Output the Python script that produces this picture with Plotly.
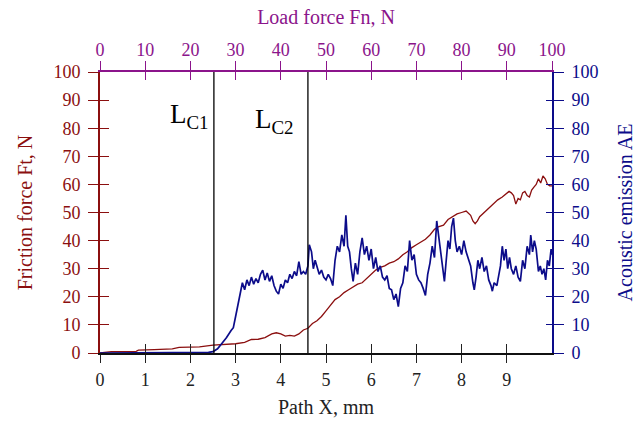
import plotly.graph_objects as go

# ---- data ----
path_ticks = [0, 1, 2, 3, 4, 5, 6, 7, 8, 9]
load_ticks = [0, 10, 20, 30, 40, 50, 60, 70, 80, 90, 100]
y_ticks = [0, 10, 20, 30, 40, 50, 60, 70, 80, 90, 100]

friction_x = [0, 0.2, 0.25, 0.8, 0.85, 1.2, 1.6, 1.75, 2.2, 2.5, 2.8, 3.0, 3.2, 3.35, 3.5,
              3.65, 3.8, 3.9, 4.0, 4.1, 4.2, 4.3, 4.4, 4.5, 4.6, 4.7, 4.8, 4.9, 5.0, 5.1,
              5.2, 5.3, 5.4, 5.5, 5.6, 5.7, 5.8, 5.9, 6.0, 6.1, 6.2, 6.3, 6.4, 6.5, 6.6,
              6.7, 6.8, 6.9, 7.0, 7.1, 7.2, 7.3, 7.4, 7.5, 7.6, 7.7, 7.8, 7.9, 8.0, 8.1,
              8.2, 8.25, 8.3, 8.35, 8.4, 8.5, 8.6, 8.7, 8.8, 8.9, 9.0, 9.05, 9.1, 9.15,
              9.2, 9.25, 9.3, 9.35, 9.4, 9.45, 9.5, 9.55, 9.6, 9.65, 9.7, 9.75, 9.8, 9.85,
              9.9, 9.95, 10.0]
friction_ft = [0, 0.3, 0.5, 0.6, 1.0, 1.2, 1.5, 2.0, 2.2, 2.8, 3.0, 3.3, 3.8, 4.8, 4.9,
               5.5, 6.8, 7.2, 6.8, 6.0, 6.3, 6.0, 6.8, 8.2, 8.8, 10.5, 11.5, 13, 15, 17,
               19, 20, 21.5, 22.5, 23.5, 24.5, 25, 26.5, 28, 29.5, 30.5, 31, 32, 32.5, 33.5,
               35, 36, 37.5, 38.5, 39.5, 40.5, 42, 44, 45, 45.5, 47.5, 48.5, 49.5, 50, 50.5,
               49, 47, 46, 47, 48.5, 50, 51.5, 53, 54.5, 55.5, 57, 57.5, 57, 56,
               53, 55, 54.5, 57, 57.5, 56, 55.5, 58, 59, 60, 62, 60.5, 63, 62,
               60, 59.5, 59.5]

ae_x = [0, 2.3, 2.4, 2.5, 2.6, 2.7, 2.8, 2.9, 2.95, 3.0, 3.05, 3.1, 3.15, 3.2, 3.25, 3.3,
        3.35, 3.4, 3.45, 3.5, 3.55, 3.6, 3.65, 3.7, 3.75, 3.8, 3.85, 3.9, 3.95, 4.0, 4.05,
        4.1, 4.15, 4.2, 4.25, 4.3, 4.35, 4.4, 4.45, 4.5, 4.55, 4.6, 4.63, 4.68, 4.72, 4.76,
        4.8, 4.85, 4.9, 4.95, 5.0, 5.05, 5.1, 5.15, 5.2, 5.25, 5.3, 5.35, 5.4, 5.44, 5.48,
        5.52, 5.56, 5.6, 5.65, 5.7, 5.75, 5.8, 5.85, 5.9, 5.95, 6.0, 6.05, 6.1, 6.15, 6.2,
        6.25, 6.3, 6.35, 6.4, 6.45, 6.5, 6.55, 6.6, 6.65, 6.7, 6.75, 6.8, 6.85, 6.9, 6.95,
        7.0, 7.05, 7.1, 7.15, 7.2, 7.25, 7.3, 7.35, 7.4, 7.45, 7.5, 7.55, 7.6, 7.62, 7.66,
        7.7, 7.74, 7.78, 7.82, 7.86, 7.9, 7.95, 8.0, 8.05, 8.1, 8.15, 8.2, 8.25, 8.28, 8.32,
        8.36, 8.4, 8.45, 8.5, 8.55, 8.6, 8.65, 8.68, 8.72, 8.78, 8.82, 8.86, 8.9, 8.94, 8.98,
        9.02, 9.06, 9.1, 9.15, 9.2, 9.25, 9.3, 9.35, 9.4, 9.45, 9.5, 9.53, 9.57, 9.61, 9.65,
        9.7, 9.74, 9.78, 9.82, 9.86, 9.9, 9.94, 9.98, 10.0]
ae_val = [0, 0, 0.2, 0.5, 1.5, 3.5, 5.5, 8, 9, 13, 17, 22, 25, 22.5, 26, 24,
          27, 24.5, 26.5, 25, 28, 29.5, 26, 28.5, 25.5, 27.5, 24, 22, 21, 24.5, 23,
          26, 25, 28, 26.5, 29, 27.5, 32.5, 28, 29, 28, 31, 38.5, 36, 30, 33,
          31, 28, 29.5, 27, 26, 28, 26.5, 24, 33, 38, 36, 42, 38, 49, 38,
          36, 30, 25.5, 32, 28, 36, 41, 35, 38, 33, 37, 30, 34, 29, 31,
          27, 26, 27.5, 23, 22.5, 19, 21, 16.5, 23, 25, 31, 29, 40, 33, 35,
          28, 26, 25, 23, 20.5, 28, 32, 38, 34, 47, 40, 33, 27, 25.5, 33,
          40, 37, 45, 48, 40, 36, 38, 35, 40, 36, 33, 31, 25, 22.5, 27,
          33, 30, 34, 29, 31, 26, 24, 22, 25, 24, 28, 31, 38, 33, 37,
          30, 34, 30, 28, 31, 27, 25.5, 33, 30, 38, 35, 42, 36, 40, 37,
          29, 31, 28, 30, 26, 33, 31, 37, 35]

critical_x = [2.52, 4.6]
critical_labels = ["L<sub>C1</sub>", "L<sub>C2</sub>"]
label_pos_x = [1.99, 3.87]
label_pos_y = [84.5, 82.5]

RED = "#8B0F0F"
BLUE = "#0C0C8A"
PURPLE = "#8B148B"
FONT = "Liberation Serif"
TICK_SIZE = 18
TITLE_SIZE = 20

fig = go.Figure()
fig.add_trace(go.Scatter(x=friction_x, y=friction_ft, mode="lines",
                         line=dict(color=RED, width=1.3), xaxis="x", yaxis="y",
                         showlegend=False, hoverinfo="skip"))
fig.add_trace(go.Scatter(x=ae_x, y=ae_val, mode="lines",
                         line=dict(color=BLUE, width=1.7), xaxis="x", yaxis="y2",
                         showlegend=False, hoverinfo="skip"))
# helper traces so that the extra tick axes (crossing ticks) are drawn
for xa, ya in [("x2", "y"), ("x3", "y"), ("x4", "y"), ("x", "y3"), ("x", "y4")]:
    fig.add_trace(go.Scatter(x=[None], y=[None], xaxis=xa, yaxis=ya,
                             showlegend=False, hoverinfo="skip"))

for cx in critical_x:
    fig.add_shape(type="line", xref="x", yref="y", x0=cx, x1=cx, y0=0, y1=100,
                  line=dict(color="black", width=1.3))
for lx, ly, txt in zip(label_pos_x, label_pos_y, critical_labels):
    fig.add_annotation(x=lx, y=ly, xref="x", yref="y", text=txt, showarrow=False,
                       font=dict(family=FONT, size=27, color="black"))

common = dict(showgrid=False, zeroline=False, automargin=False)

fig.update_layout(
    width=643, height=421,
    margin=dict(l=100, r=91, t=72, b=68, autoexpand=False),
    paper_bgcolor="white", plot_bgcolor="white",
    font=dict(family=FONT, size=TICK_SIZE),
    xaxis=dict(range=[0, 10], tickvals=path_ticks, ticks="outside", ticklen=8,
               tickcolor="#222", tickwidth=1.2, showline=True, linecolor="#111",
               linewidth=1.6, tickfont=dict(family=FONT, size=TICK_SIZE, color="#222"),
               ticklabelstandoff=2,
               title=dict(text="Path X, mm", font=dict(family=FONT, size=TITLE_SIZE, color="#222"),
                          standoff=11), **common),
    xaxis2=dict(range=[0, 100], tickvals=load_ticks, overlaying="x", side="top",
                anchor="y", ticks="outside", ticklen=9, tickcolor=PURPLE, tickwidth=1.2,
                showline=True, linecolor=PURPLE, linewidth=1.6,
                tickfont=dict(family=FONT, size=TICK_SIZE, color=PURPLE), ticklabelstandoff=-2,
                title=dict(text="Load force Fn, N", font=dict(family=FONT, size=TITLE_SIZE, color=PURPLE),
                           standoff=10), **common),
    xaxis3=dict(range=[0, 10], tickvals=path_ticks, overlaying="x", anchor="y",
                ticks="inside", ticklen=9, tickcolor="#222", tickwidth=1.2,
                showticklabels=False, showline=False, **common),
    xaxis4=dict(range=[0, 100], tickvals=load_ticks, overlaying="x", side="top",
                anchor="y", ticks="inside", ticklen=8, tickcolor=PURPLE, tickwidth=1.2,
                showticklabels=False, showline=False, **common),
    yaxis=dict(range=[0, 100], tickvals=y_ticks, ticks="outside", ticklen=10,
               tickcolor=RED, tickwidth=1.2, showline=True, linecolor=RED, linewidth=1.6,
               tickfont=dict(family=FONT, size=TICK_SIZE, color=RED), ticklabelstandoff=4,
               title=dict(text="Friction force Ft, N", font=dict(family=FONT, size=TITLE_SIZE, color=RED),
                          standoff=16), **common),
    yaxis2=dict(range=[0, 100], tickvals=y_ticks, overlaying="y", side="right",
                anchor="x", ticks="outside", ticklen=10, tickcolor=BLUE, tickwidth=1.2,
                showline=True, linecolor=BLUE, linewidth=1.6,
                tickfont=dict(family=FONT, size=TICK_SIZE, color=BLUE), ticklabelstandoff=4,
                title=dict(text="Acoustic emission AE", font=dict(family=FONT, size=TITLE_SIZE, color=BLUE),
                           standoff=21), **common),
    yaxis3=dict(range=[0, 100], tickvals=y_ticks, overlaying="y", anchor="x",
                ticks="inside", ticklen=9, tickcolor=RED, tickwidth=1.2,
                showticklabels=False, showline=False, **common),
    yaxis4=dict(range=[0, 100], tickvals=y_ticks, overlaying="y", side="right",
                anchor="x", ticks="inside", ticklen=6, tickcolor=BLUE, tickwidth=1.2,
                showticklabels=False, showline=False, **common),
)

fig.write_html("out.html")
